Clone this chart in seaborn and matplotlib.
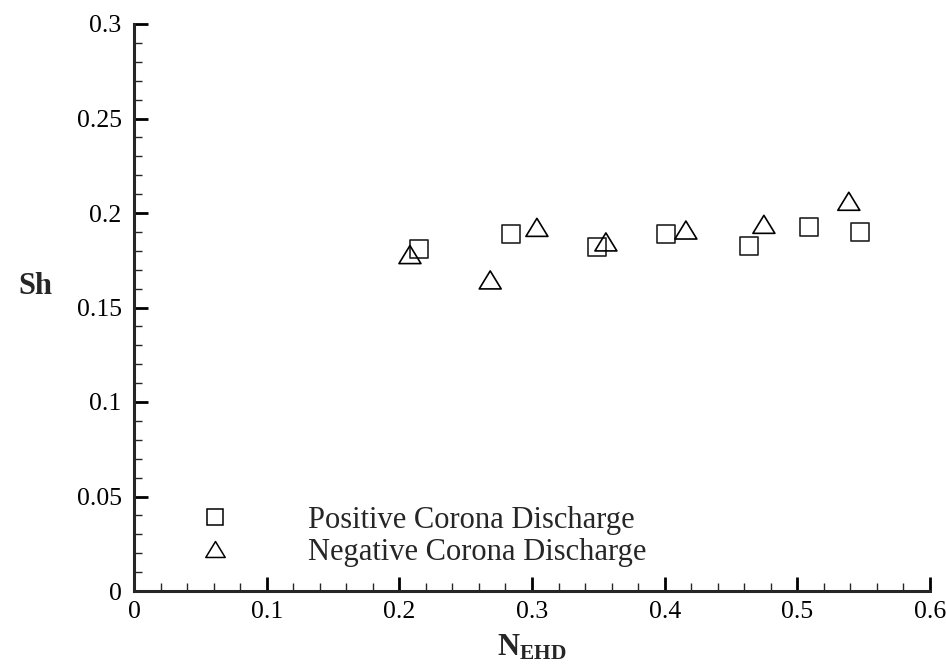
import numpy as np
import pandas as pd
import matplotlib
matplotlib.use("Agg")
import matplotlib.pyplot as plt
import seaborn as sns
from matplotlib.path import Path
from matplotlib.lines import Line2D
from matplotlib.ticker import MultipleLocator, FuncFormatter

# Data
pos_x = [0.215, 0.284, 0.349, 0.401, 0.4635, 0.509, 0.547]
pos_y = [0.181, 0.1887, 0.182, 0.189, 0.1825, 0.1924, 0.190]
neg_x = [0.208, 0.2685, 0.3037, 0.3557, 0.416, 0.4748, 0.5388]
neg_y = [0.178, 0.1646, 0.1924, 0.1847, 0.191, 0.194, 0.2062]
series_names = ["Positive Corona Discharge", "Negative Corona Discharge"]
x_ticks = [0, 0.1, 0.2, 0.3, 0.4, 0.5, 0.6]
y_ticks = [0, 0.05, 0.1, 0.15, 0.2, 0.25, 0.3]

sns.set_style("ticks")
plt.rcParams["font.family"] = ["Liberation Serif", "DejaVu Serif"]
plt.rcParams["mathtext.fontset"] = "custom"
plt.rcParams["mathtext.rm"] = "Liberation Serif"
plt.rcParams["mathtext.bf"] = "Liberation Serif:bold"

df = pd.DataFrame({
    "x": pos_x + neg_x,
    "y": pos_y + neg_y,
    "series": [series_names[0]] * len(pos_x) + [series_names[1]] * len(neg_x),
})

tri = Path([(-1, -0.82), (1, -0.82), (0, 0.82), (-1, -0.82)],
           [Path.MOVETO, Path.LINETO, Path.LINETO, Path.CLOSEPOLY])

fig = plt.figure(figsize=(9.46, 6.70), dpi=100)
ax = fig.add_axes([134 / 946, 1 - 591 / 670, (930 - 134) / 946, (591 - 24) / 670])

sns.scatterplot(data=df[df.series == series_names[0]], x="x", y="y", ax=ax,
                marker="s", s=165, facecolor="none", edgecolor="#222222",
                linewidth=1.2, legend=False, zorder=3)
sns.scatterplot(data=df[df.series == series_names[1]], x="x", y="y", ax=ax,
                marker=tri, s=250, facecolor="none", edgecolor="black",
                linewidth=1.2, legend=False, zorder=3)

ax.set_xlim(0, 0.6)
ax.set_ylim(0, 0.3)
ax.set_xticks(x_ticks)
ax.set_yticks(y_ticks)
fmt = FuncFormatter(lambda v, p: ("%g" % round(v, 3)))
ax.xaxis.set_major_formatter(fmt)
ax.yaxis.set_major_formatter(fmt)
ax.xaxis.set_minor_locator(MultipleLocator(0.02))
ax.yaxis.set_minor_locator(MultipleLocator(0.01))
sns.despine(ax=ax)
for s in ["left", "bottom"]:
    ax.spines[s].set_linewidth(2.2)
ax.tick_params(which="major", direction="in", length=10, width=2.0,
               labelsize=18.5, colors="black")
ax.tick_params(axis="y", which="major", pad=9)
ax.tick_params(axis="x", which="major", pad=7)
ax.tick_params(which="minor", direction="in", length=6, width=1.0)

ax.set_xlabel(r"$\mathbf{N_{EHD}}$", fontsize=22)
ax.set_ylabel("Sh", fontsize=22, fontweight="bold", rotation=0)
ax.xaxis.set_label_coords(0.5, -0.074)
ax.yaxis.set_label_coords(-0.124, 0.511)

handles = [
    Line2D([], [], linestyle="none", marker="s", markersize=12,
           markerfacecolor="none", markeredgecolor="black", markeredgewidth=1.1),
    Line2D([], [], linestyle="none", marker=tri, markersize=14,
           markerfacecolor="none", markeredgecolor="black", markeredgewidth=1.1),
]
ax.legend(handles, series_names, loc="lower left", bbox_to_anchor=(0.063, 0.043),
          frameon=False, fontsize=22, handlelength=2.0, handletextpad=2.04,
          labelspacing=0.08, borderpad=0, borderaxespad=0)

fig.savefig("out.png", dpi=100)
